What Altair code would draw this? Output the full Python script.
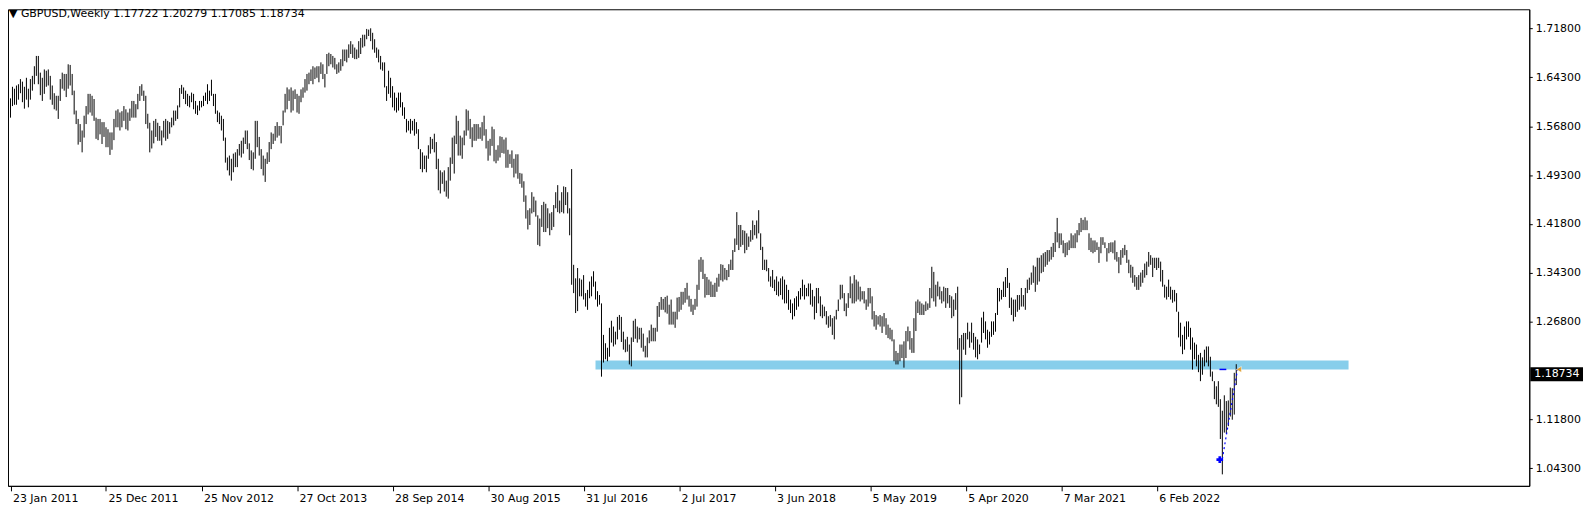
import altair as alt
import pandas as pd

# ---------------- data ----------------
symbol = "GBPUSD"
period = "Weekly"
last_ohlc = ["1.17722", "1.20279", "1.17085", "1.18734"]  # open high low close of the last bar
first_week = "2011-01-16"   # first visible weekly bar (weeks start on Sunday)

# Weekly highs / lows as first (provisional price grid,
# corrected below by the calibration measured against the price-scale labels).
high_2011 = [1.606,1.610,1.628,1.625,1.630,1.632,1.640,1.636,1.628,1.642,
             1.625,1.640,1.645,1.660,1.676,1.676,1.650,1.642,1.655,1.653,
             1.655,1.645,1.630,1.618,1.614,1.614,1.640,1.650,1.648,1.648,
             1.663,1.662,1.648,1.622,1.591,1.578,1.570,1.560,1.583,1.598,
             1.617,1.617,1.614,1.609,1.580,1.578,1.578,1.573,1.573,1.565]
low_2011 = [1.576,1.580,1.598,1.600,1.600,1.608,1.618,1.604,1.594,1.608,
            1.596,1.608,1.622,1.632,1.645,1.632,1.615,1.606,1.617,1.628,
            1.630,1.608,1.600,1.593,1.591,1.578,1.606,1.625,1.622,1.612,
            1.625,1.630,1.615,1.585,1.570,1.538,1.542,1.526,1.549,1.570,
            1.585,1.588,1.583,1.575,1.547,1.545,1.554,1.539,1.550,1.534]

high_2012 = [1.562,1.557,1.557,1.578,1.591,1.593,1.588,1.590,1.598,1.593,
             1.588,1.594,1.606,1.606,1.601,1.617,1.629,1.632,1.622,1.614,
             1.586,1.572,1.560,1.575,1.578,1.572,1.567,1.560,1.575,1.578,
             1.575,1.573,1.580,1.591,1.591,1.599,1.626,1.631,1.627,1.622,
             1.617,1.614,1.619,1.617,1.606,1.599,1.606,1.606,1.614,1.619,
             1.632,1.622,1.639]
low_2012 = [1.534,1.522,1.530,1.545,1.565,1.565,1.560,1.565,1.575,1.562,
            1.560,1.575,1.580,1.580,1.580,1.593,1.606,1.614,1.606,1.570,
            1.563,1.526,1.532,1.540,1.550,1.544,1.544,1.537,1.549,1.544,
            1.547,1.555,1.565,1.568,1.575,1.578,1.596,1.617,1.609,1.601,
            1.598,1.596,1.604,1.593,1.586,1.584,1.591,1.596,1.598,1.606,
            1.601,1.606,1.614]

high_2013 = [1.617,1.617,1.591,1.588,1.583,1.578,1.549,1.518,1.521,1.516,
             1.524,1.526,1.531,1.539,1.544,1.549,1.560,1.560,1.540,1.529,
             1.526,1.575,1.575,1.550,1.531,1.521,1.516,1.526,1.542,1.557,
             1.555,1.567,1.573,1.567,1.567,1.591,1.617,1.627,1.624,1.627,
             1.622,1.624,1.617,1.614,1.624,1.627,1.640,1.648,1.650,1.655,
             1.660,1.658]
low_2013 = [1.598,1.586,1.573,1.570,1.560,1.544,1.510,1.498,1.490,1.482,
            1.495,1.503,1.503,1.521,1.518,1.524,1.539,1.531,1.514,1.500,
            1.498,1.516,1.534,1.521,1.500,1.490,1.480,1.508,1.511,1.531,
            1.539,1.544,1.549,1.552,1.540,1.568,1.588,1.593,1.606,1.588,
            1.591,1.609,1.588,1.586,1.604,1.611,1.619,1.622,1.632,1.637,
            1.632,1.640]

high_2014 = [1.660,1.660,1.666,1.663,1.648,1.679,1.681,1.679,1.676,1.673,
             1.663,1.666,1.671,1.686,1.686,1.686,1.694,1.699,1.694,1.689,
             1.686,1.699,1.704,1.709,1.709,1.718,1.717,1.719,1.712,1.702,
             1.689,1.686,1.676,1.666,1.666,1.629,1.653,1.642,1.629,1.619,
             1.611,1.619,1.619,1.604,1.596,1.578,1.575,1.578,1.575,1.578,
             1.573,1.562]
low_2014 = [1.642,1.635,1.648,1.640,1.627,1.648,1.660,1.663,1.658,1.655,
            1.648,1.650,1.653,1.660,1.668,1.666,1.673,1.679,1.673,1.671,
            1.671,1.673,1.679,1.689,1.691,1.702,1.707,1.699,1.686,1.681,
            1.673,1.666,1.655,1.653,1.627,1.606,1.617,1.611,1.596,1.591,
            1.588,1.591,1.596,1.583,1.578,1.557,1.560,1.555,1.560,1.552,
            1.555,1.531]

high_2015 = [1.531,1.526,1.521,1.521,1.537,1.550,1.547,1.555,1.542,1.516,
             1.498,1.495,1.498,1.482,1.503,1.518,1.549,1.552,1.583,1.575,
             1.552,1.549,1.560,1.593,1.591,1.578,1.565,1.570,1.570,1.570,
             1.565,1.573,1.583,1.562,1.544,1.547,1.566,1.562,1.530,1.537,
             1.551,1.550,1.546,1.549,1.530,1.523,1.529,1.516,1.523,1.523,
             1.494,1.493]
low_2015 = [1.500,1.495,1.500,1.495,1.516,1.524,1.531,1.526,1.500,1.467,
            1.462,1.477,1.465,1.457,1.454,1.482,1.508,1.493,1.539,1.521,
            1.521,1.516,1.537,1.552,1.560,1.547,1.534,1.544,1.544,1.547,
            1.547,1.544,1.552,1.532,1.513,1.521,1.536,1.512,1.509,1.513,
            1.518,1.525,1.524,1.502,1.502,1.508,1.502,1.487,1.493,1.485,
            1.477,1.471]

high_2016 = [1.481,1.459,1.436,1.439,1.464,1.457,1.451,1.428,1.423,1.444,
             1.449,1.446,1.439,1.431,1.433,1.444,1.464,1.475,1.451,1.464,
             1.473,1.472,1.464,1.439,1.500,1.351,1.330,1.346,1.330,1.328,
             1.335,1.307,1.312,1.325,1.333,1.341,1.325,1.310,1.304,1.291,
             1.242,1.229,1.222,1.253,1.264,1.255,1.247,1.270,1.273,1.270,
             1.247,1.235]
low_2016 = [1.449,1.423,1.406,1.413,1.431,1.433,1.426,1.382,1.380,1.410,
            1.402,1.402,1.408,1.397,1.405,1.410,1.439,1.433,1.431,1.433,
            1.431,1.444,1.431,1.397,1.320,1.307,1.276,1.279,1.302,1.302,
            1.297,1.286,1.281,1.299,1.302,1.317,1.297,1.286,1.289,1.177,
            1.199,1.204,1.201,1.208,1.230,1.224,1.227,1.235,1.250,1.231,
            1.219,1.215]

high_2017 = [1.239,1.227,1.238,1.264,1.267,1.255,1.253,1.253,1.244,1.225,
             1.238,1.249,1.258,1.253,1.253,1.287,1.293,1.301,1.298,1.301,
             1.303,1.289,1.297,1.278,1.278,1.300,1.301,1.309,1.309,1.315,
             1.323,1.303,1.298,1.289,1.298,1.320,1.359,1.363,1.359,1.337,
             1.332,1.328,1.325,1.320,1.323,1.331,1.337,1.352,1.351,1.346,
             1.343,1.352,1.359]
low_2017 = [1.216,1.196,1.193,1.231,1.236,1.230,1.235,1.222,1.216,1.207,
            1.207,1.229,1.232,1.232,1.232,1.247,1.270,1.281,1.281,1.277,
            1.275,1.258,1.258,1.258,1.253,1.266,1.278,1.281,1.289,1.292,
            1.297,1.286,1.278,1.273,1.281,1.286,1.312,1.340,1.329,1.300,
            1.304,1.304,1.301,1.301,1.301,1.309,1.317,1.327,1.325,1.328,
            1.327,1.332,1.343]

high_2018 = [1.374,1.392,1.433,1.413,1.413,1.405,1.404,1.400,1.395,1.405,
             1.420,1.413,1.420,1.436,1.400,1.379,1.359,1.359,1.346,1.333,
             1.343,1.328,1.333,1.325,1.330,1.333,1.328,1.320,1.312,1.297,
             1.291,1.299,1.302,1.310,1.315,1.328,1.320,1.315,1.322,1.322,
             1.312,1.302,1.315,1.315,1.302,1.289,1.286,1.279,1.271,1.273,
             1.268,1.271]
low_2018 = [1.343,1.371,1.382,1.374,1.379,1.382,1.369,1.374,1.379,1.387,
            1.390,1.397,1.392,1.400,1.374,1.343,1.343,1.341,1.325,1.317,
            1.315,1.310,1.304,1.302,1.304,1.297,1.291,1.291,1.281,1.276,
            1.266,1.271,1.281,1.286,1.297,1.302,1.297,1.302,1.302,1.289,
            1.286,1.266,1.276,1.291,1.271,1.268,1.271,1.258,1.253,1.255,
            1.242,1.235]

high_2019 = [1.281,1.297,1.320,1.320,1.307,1.291,1.307,1.333,1.322,1.335,
             1.328,1.325,1.317,1.310,1.310,1.297,1.315,1.315,1.302,1.279,
             1.273,1.271,1.273,1.271,1.276,1.268,1.258,1.253,1.250,1.235,
             1.217,1.214,1.227,1.227,1.232,1.248,1.255,1.248,1.237,1.268,
             1.294,1.297,1.294,1.291,1.289,1.294,1.291,1.315,1.348,1.340,
             1.320,1.325]
low_2019 = [1.266,1.279,1.297,1.299,1.279,1.271,1.284,1.299,1.291,1.291,
            1.294,1.297,1.294,1.297,1.291,1.281,1.286,1.291,1.266,1.255,
            1.250,1.258,1.255,1.245,1.255,1.242,1.237,1.235,1.232,1.201,
            1.196,1.196,1.201,1.206,1.191,1.206,1.232,1.219,1.214,1.214,
            1.248,1.276,1.273,1.273,1.273,1.279,1.281,1.284,1.299,1.294,
            1.286,1.302]

high_2020 = [1.317,1.310,1.317,1.315,1.315,1.304,1.302,1.297,1.307,1.317,
             1.237,1.242,1.245,1.245,1.261,1.247,1.261,1.245,1.239,1.235,
             1.227,1.269,1.278,1.263,1.250,1.247,1.263,1.263,1.276,1.315,
             1.315,1.312,1.325,1.332,1.346,1.323,1.300,1.297,1.297,1.304,
             1.304,1.315,1.304,1.315,1.328,1.331,1.339,1.350,1.348,1.362,
             1.362,1.366]
low_2020 = [1.297,1.291,1.294,1.284,1.291,1.284,1.268,1.271,1.281,1.219,
            1.134,1.145,1.219,1.211,1.235,1.222,1.230,1.219,1.207,1.204,
            1.212,1.230,1.245,1.235,1.222,1.227,1.239,1.242,1.247,1.273,
            1.294,1.297,1.301,1.301,1.315,1.284,1.273,1.263,1.270,1.278,
            1.281,1.286,1.286,1.281,1.307,1.312,1.320,1.323,1.309,1.320,
            1.325,1.338]

high_2021 = [1.369,1.371,1.374,1.374,1.379,1.385,1.402,1.424,1.400,1.400,
             1.389,1.385,1.386,1.389,1.400,1.397,1.400,1.405,1.416,1.424,
             1.421,1.425,1.420,1.400,1.393,1.389,1.389,1.386,1.379,1.394,
             1.394,1.386,1.377,1.385,1.386,1.386,1.389,1.371,1.363,1.374,
             1.377,1.382,1.374,1.359,1.351,1.348,1.335,1.332,1.335,1.339,
             1.343,1.353]
low_2021 = [1.340,1.348,1.351,1.356,1.359,1.363,1.371,1.386,1.377,1.382,
            1.369,1.363,1.366,1.374,1.377,1.377,1.377,1.386,1.397,1.402,
            1.405,1.405,1.405,1.374,1.371,1.369,1.371,1.374,1.354,1.369,
            1.382,1.377,1.356,1.369,1.371,1.369,1.359,1.356,1.338,1.351,
            1.362,1.366,1.354,1.338,1.331,1.323,1.317,1.312,1.312,1.317,
            1.323,1.331]

# 2022 up to the week before the last bar
high_2022 = [1.356,1.371,1.366,1.362,1.362,1.362,1.362,1.356,1.343,1.320,
             1.317,1.328,1.317,1.312,1.312,1.307,1.278,1.261,1.242,1.255,
             1.263,1.263,1.253,1.238,1.230,1.227,1.211,1.214,1.207,1.219,
             1.224,1.224,1.208,1.185,1.170,1.162,1.170,1.142,1.124,1.148,
             1.139,1.140,1.160,1.159,1.183]
low_2022 = [1.335,1.348,1.351,1.332,1.346,1.343,1.346,1.325,1.317,1.300,
            1.297,1.301,1.297,1.292,1.294,1.278,1.238,1.224,1.212,1.219,
            1.235,1.239,1.219,1.188,1.204,1.193,1.184,1.170,1.180,1.193,
            1.199,1.193,1.177,1.170,1.142,1.134,1.130,1.080,1.025,1.090,
            1.088,1.100,1.115,1.110,1.118]

# price-grid calibration of the readings above (reference: 1.7192 level, px per unit)
READ_REF, READ_PX, TRUE_PX, READ_Y0, TRUE_Y0 = 1.7192, 646.0, 655.0, 27.0, 26.5

# time scale labels and the price scale labels that are visible
# (1.19300 is hidden behind the current-price box in the reference)
date_labels = ["23 Jan 2011", "25 Dec 2011", "25 Nov 2012", "27 Oct 2013",
               "28 Sep 2014", "30 Aug 2015", "31 Jul 2016", "2 Jul 2017",
               "3 Jun 2018", "5 May 2019", "5 Apr 2020", "7 Mar 2021",
               "6 Feb 2022"]
price_labels = ["1.71800", "1.64300", "1.56800", "1.49300", "1.41800",
                "1.34300", "1.26800", "1.11800", "1.04300"]

# support rectangle drawn on the chart (true prices)
zone_start, zone_end = "2016-09-11", "2023-12-13"
zone_top, zone_bottom = 1.2085, 1.1948

# small objects near the last bars (true prices)
star_point = ("2022-09-16", 1.0563)
dash_segment = ("2022-09-15", "2022-10-09", 1.1948)
dotted_line = [("2022-09-25", 1.0574), ("2022-11-18", 1.1963)]
arrow_point = ("2022-11-22", 1.1948)

# ---------------- build tables ----------------
def calibrate(r):
    y = READ_Y0 + (READ_REF - r) * READ_PX
    return round(READ_REF - (y - TRUE_Y0) / TRUE_PX, 5)

highs = (high_2011 + high_2012 + high_2013 + high_2014 + high_2015 + high_2016 +
         high_2017 + high_2018 + high_2019 + high_2020 + high_2021 + high_2022)
lows = (low_2011 + low_2012 + low_2013 + low_2014 + low_2015 + low_2016 +
        low_2017 + low_2018 + low_2019 + low_2020 + low_2021 + low_2022)
highs = [calibrate(v) for v in highs] + [float(last_ohlc[1])]
lows = [calibrate(v) for v in lows] + [float(last_ohlc[2])]
n = len(highs)
dates = pd.date_range(first_week, periods=n, freq="7D")
bars_df = pd.DataFrame({"date": dates.strftime("%Y-%m-%d"), "high": highs, "low": lows})

WEEK = 7 * 24 * 3600 * 1000
W, H = 1529, 479
t0 = int(pd.Timestamp(first_week).value // 10**6)
d0 = t0 - WEEK // 4              # bar centres land on half pixels -> crisp 1px lines
d1 = d0 + W * WEEK // 2          # 2 px per weekly bar
y_hi = READ_REF + (TRUE_Y0 - 8) / TRUE_PX
y_lo = READ_REF - (8 + H - TRUE_Y0) / TRUE_PX

tick_ms = [int(pd.to_datetime(s, format="%d %b %Y").value // 10**6) for s in date_labels]
price_ticks = [float(s) for s in price_labels]

FONT = "DejaVu Sans"
xs = alt.Scale(type="utc", domain=[d0, d1], nice=False)
ys = alt.Scale(domain=[y_lo, y_hi], zero=False, nice=False)

x_axis = alt.Axis(values=tick_ms, format="%-d %b %Y", labelAlign="left", labelBaseline="top",
                  labelOffset=2, labelPadding=2, tickSize=5, tickColor="black",
                  domainColor="black", labelColor="black", labelFont=FONT, labelFontSize=11,
                  title=None, grid=False, labelOverlap=False, labelFlush=False)
y_axis = alt.Axis(orient="right", values=price_ticks, format=".5f", tickSize=3,
                  labelPadding=3, tickColor="black", domainColor="black", labelColor="black",
                  labelFont=FONT, labelFontSize=11, title=None, grid=False,
                  labelOverlap=False, labelFlush=False)

zone = alt.Chart(pd.DataFrame({"s": [zone_start], "e": [zone_end],
                               "t": [zone_top], "b": [zone_bottom]})).mark_rect(
    color="#87CEEB", clip=True).encode(
    x=alt.X("s:T", scale=xs, axis=x_axis), x2="e:T",
    y=alt.Y("t:Q", scale=ys, axis=y_axis), y2="b:Q")

bars = alt.Chart(bars_df).mark_rule(color="black", strokeWidth=1).encode(
    x=alt.X("date:T", scale=xs, axis=x_axis),
    y=alt.Y("low:Q", scale=ys, axis=y_axis), y2="high:Q")

dash = alt.Chart(pd.DataFrame({"a": [dash_segment[0]], "b": [dash_segment[1]],
                               "p": [dash_segment[2]]})).mark_rule(
    color="#0000FF", strokeWidth=1.5).encode(
    x=alt.X("a:T", scale=xs), x2="b:T", y=alt.Y("p:Q", scale=ys))

dotted = alt.Chart(pd.DataFrame({"d": [p[0] for p in dotted_line],
                                 "p": [p[1] for p in dotted_line]})).mark_line(
    color="#0000FF", strokeWidth=1.2, strokeDash=[2, 3]).encode(
    x=alt.X("d:T", scale=xs), y=alt.Y("p:Q", scale=ys))

star = alt.Chart(pd.DataFrame({"d": [star_point[0]], "p": [star_point[1]]})).mark_point(
    shape="cross", filled=True, color="#0000FF", size=45, opacity=1).encode(
    x=alt.X("d:T", scale=xs), y=alt.Y("p:Q", scale=ys))

arrow = alt.Chart(pd.DataFrame({"d": [arrow_point[0]], "p": [arrow_point[1]]})).mark_point(
    shape="triangle-left", filled=True, color="#E0A030", size=35, opacity=1,
    stroke="white", strokeWidth=0.5).encode(
    x=alt.X("d:T", scale=xs), y=alt.Y("p:Q", scale=ys))

last_close = float(last_ohlc[3])
price_df = pd.DataFrame({"p": [last_close], "txt": [last_ohlc[3]]})
price_box = alt.Chart(price_df).mark_rule(color="black", strokeWidth=14, clip=False).encode(
    x=alt.value(W + 1), x2=alt.value(W + 54), y=alt.Y("p:Q", scale=ys))
price_txt = alt.Chart(price_df).mark_text(
    color="white", font=FONT, fontSize=11, align="left", baseline="middle", clip=False).encode(
    x=alt.value(W + 5), y=alt.Y("p:Q", scale=ys), text="txt:N")

title_txt = "\u25bc " + symbol + "," + period + "  " + " ".join(last_ohlc)
title = alt.Chart(pd.DataFrame({"t": [title_txt]})).mark_text(
    color="black", font=FONT, fontSize=11, align="left", baseline="middle").encode(
    x=alt.value(1), y=alt.value(5), text="t:N")

chart = alt.layer(zone, bars, dash, dotted, star, arrow, price_box, price_txt, title).properties(
    width=W, height=H,
    padding={"left": 0, "top": 0, "right": 1592 - 8 - W, "bottom": 24},
    autosize=alt.AutoSizeParams(type="none"),
    background="white",
).configure_view(stroke="black", strokeWidth=1)

chart.save("out.html", embed_options={"renderer": "svg", "actions": False})
